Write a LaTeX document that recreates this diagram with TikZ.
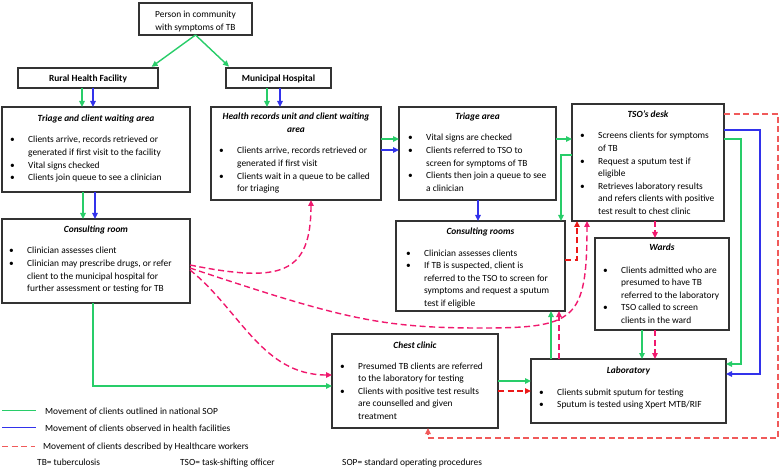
\documentclass[tikz,border=0pt]{standalone}
\usepackage{fontspec}
\setmainfont{Carlito}
\usetikzlibrary{arrows.meta}
\newcommand{\fs}{\fontsize{9.4}{12.6}\selectfont}
\newcommand{\bul}{\makebox[18pt][l]{\textbullet}}
\newcommand{\indt}{\hspace*{18pt}}
\newcommand{\blist}[1]{\begin{tabular}[t]{@{}l@{}}#1\end{tabular}}
\newcommand{\ctrtab}[1]{\begin{tabular}[t]{@{}c@{}}#1\end{tabular}}
\definecolor{gr}{RGB}{40,205,105}
\definecolor{bl}{RGB}{50,50,235}
\definecolor{sal}{RGB}{240,90,90}
\definecolor{rd}{RGB}{235,25,25}
\definecolor{mg}{RGB}{240,25,110}
\tikzset{
  box/.style={draw=black!80, line width=1.4pt, anchor=north west, inner sep=0pt, outer sep=0pt},
  ttl/.style={anchor=base, inner sep=0pt, font=\fs\bfseries\itshape},
  hdr/.style={anchor=base, inner sep=0pt, font=\fs\bfseries},
  bdy/.style={anchor=base west, inner sep=0pt, font=\fs},
  arr/.style={-{Triangle[length=6pt,width=5.5pt]}, line width=1.4pt},
  dsh/.style={dash pattern=on 6pt off 3.5pt},
  lgl/.style={line width=1.4pt},
}
\begin{document}
\begin{tikzpicture}[x=1pt,y=-1pt]
\useasboundingbox (0,0) rectangle (780,468);

% boxes
\node[box, minimum width=113pt, minimum height=32pt] (person) at (139,3) {};
\node[box, minimum width=140pt, minimum height=20pt] (rural) at (18,68) {};
\node[box, minimum width=105pt, minimum height=20pt] (muni) at (226,68) {};
\node[box, minimum width=188pt, minimum height=85pt] (tcw) at (2,107) {};
\node[box, minimum width=170pt, minimum height=93pt] (hru) at (211,107) {};
\node[box, minimum width=157pt, minimum height=93pt] (tri) at (399,107) {};
\node[box, minimum width=152pt, minimum height=117pt] (tso) at (572,104) {};
\node[box, minimum width=169pt, minimum height=90pt] (crs) at (396,221) {};
\node[box, minimum width=134pt, minimum height=92pt] (wards) at (595,238) {};
\node[box, minimum width=166pt, minimum height=94pt] (chest) at (332,334) {};
\node[box, minimum width=195pt, minimum height=64pt] (lab) at (531,359) {};
\node[box, minimum width=188pt, minimum height=84pt] (cr) at (2,219) {};

% texts
\node[bdy, anchor=base] (person-t) at (195.5,18) {\ctrtab{Person in community\\with symptoms of TB}};
\node[hdr] (rural-t) at (88,82) {Rural Health Facility};
\node[hdr] (muni-t) at (278.5,82) {Municipal Hospital};

\node[ttl] (tcw-t) at (96,122) {Triage and client waiting area};
\node[bdy] (tcw-b) at (10,143) {\blist{\bul Clients arrive, records retrieved or\\
\indt generated if first visit to the facility\\
\bul Vital signs checked\\
\bul Clients join queue to see a clinician}};

\node[ttl] (hru-t) at (296,120) {\ctrtab{Health records unit and client waiting\\area}};
\node[bdy] (hru-b) at (219,154) {\blist{\bul Clients arrive, records retrieved or\\
\indt generated if first visit\\
\bul Clients wait in a queue to be called\\
\indt for triaging}};

\node[ttl] (tri-t) at (477.5,120) {Triage area};
\node[bdy] (tri-b) at (408,141) {\blist{\bul Vital signs are checked\\
\bul Clients referred to TSO to\\
\indt screen for symptoms of TB\\
\bul Clients then join a queue to see\\
\indt a clinician}};

\node[ttl] (tso-t) at (648,118) {TSO’s desk};
\node[bdy] (tso-b) at (580,139) {\blist{\bul Screens clients for symptoms\\
\indt of TB\\
\bul Request a sputum test if\\
\indt eligible\\
\bul Retrieves laboratory results\\
\indt and refers clients with positive\\
\indt test result to chest clinic}};

\node[ttl] (crs-t) at (480.5,235) {Consulting rooms};
\node[bdy] (crs-b) at (406,256) {\blist{\bul Clinician assesses clients\\
\bul If TB is suspected, client is\\
\indt referred to the TSO to screen for\\
\indt symptoms and request a sputum\\
\indt test if eligible}};

\node[ttl] (wards-t) at (662,251) {Wards};
\node[bdy] (wards-b) at (603,273) {\blist{\bul Clients admitted who are\\
\indt presumed to have TB\\
\indt referred to the laboratory\\
\bul TSO called to screen\\
\indt clients in the ward}};

\node[ttl] (chest-t) at (415,348) {Chest clinic};
\node[bdy] (chest-b) at (340,369) {\blist{\bul Presumed TB clients are referred\\
\indt to the laboratory for testing\\
\bul Clients with positive test results\\
\indt are counselled and given\\
\indt treatment}};

\node[ttl] (lab-t) at (628.5,373) {Laboratory};
\node[bdy] (lab-b) at (539,395) {\blist{\bul Clients submit sputum for testing\\
\bul Sputum is tested using Xpert MTB/RIF}};

\node[ttl] (cr-t) at (96,233) {Consulting room};
\node[bdy] (cr-b) at (9,254) {\blist{\bul Clinician assesses client\\
\bul Clinician may prescribe drugs, or refer\\
\indt client to the municipal hospital for\\
\indt further assessment or testing for TB}};

% connectors
\draw[arr,gr,shorten >=2pt] (person.south) -- ([xshift=62]rural.north);
\draw[arr,gr,shorten >=2pt] (person.south) -- ([xshift=-48]muni.north);

\draw[arr,gr] ([xshift=-6]rural.south) -- ([xshift=-14]tcw.north);
\draw[arr,bl] ([xshift=5]rural.south) -- ([xshift=-3]tcw.north);
\draw[arr,gr] ([xshift=-11.5]muni.south) -- ([xshift=-29]hru.north);
\draw[arr,bl] ([xshift=1.5]muni.south) -- ([xshift=-16]hru.north);

\draw[arr,gr] ([yshift=14.5]hru.east) -- ([yshift=14.5]tri.west);
\draw[arr,bl] ([yshift=3.5]hru.east) -- ([yshift=3.5]tri.west);

\draw[arr,gr] ([xshift=-13]tcw.south) -- ([xshift=-13]cr.north);
\draw[arr,bl] ([xshift=-1]tcw.south) -- ([xshift=-1]cr.north);

\draw[arr,gr] ([yshift=14.5]tri.east) -- ([yshift=23.5]tso.west);
\draw[arr,gr] ([yshift=7.5]tso.west) -| ([xshift=80.5]crs.north);
\draw[arr,bl] ([xshift=0.5]tri.south) -- ([xshift=-2.5]crs.north);

\draw[arr,gr] ([yshift=23.5]tso.east) -- ++(17,0) |- ([yshift=27]lab.east);
\draw[arr,bl] ([yshift=32.5]tso.east) -- ++(36,0) |- ([yshift=17]lab.east);
\draw[arr,sal,dsh] ([yshift=48.5]tso.east) -- ++(54,0) -- ++(0,324) -| ([xshift=13]chest.south);

\draw[arr,mg,dsh] ([xshift=7]tso.south) -- ([xshift=-7]wards.north);
\draw[arr,gr] ([xshift=-20]wards.south) -- ([xshift=13.5]lab.north);
\draw[arr,mg,dsh] ([xshift=-7]wards.south) -- ([xshift=26.5]lab.north);

\draw[arr,gr] (chest.east) -- ([yshift=10]lab.west);
\draw[arr,rd,dsh] ([yshift=-10]chest.east) -- (lab.west);

\draw[arr,gr] ([xshift=-77.5]lab.north) -- ([xshift=70.5]crs.south);
\draw[arr,mg,dsh] ([xshift=-69.5]lab.north) -- ([xshift=78.5]crs.south);

\draw[arr,rd,dsh] ([yshift=6]crs.east) -| ([xshift=-71]tso.south);

\draw[arr,mg,dsh] ([yshift=-4]cr.east) .. controls +(90,18) and +(0,75) .. ([xshift=15]hru.south);
\draw[arr,mg,dsh] ([yshift=-7]cr.east) .. controls +(150,50) and +(-100,0) .. (480,328) .. controls +(95,0) and +(0,100) .. ([xshift=-61]tso.south);
\draw[arr,mg,dsh] ([yshift=-9]cr.east) .. controls +(50,40) and +(-70,0) .. ([yshift=6]chest.west);
\draw[arr,gr] ([xshift=-3]cr.south) |- ([yshift=-5]chest.west);

% legend
\node[bdy] (lg1) at (45,414) {Movement of clients outlined in national SOP};
\node[bdy] (lg2) at (45,431) {Movement of clients observed in health facilities};
\node[bdy] (lg3) at (43,449) {Movement of clients described by Healthcare workers};
\draw[lgl,gr] ([xshift=-43]lg1.west) -- ([xshift=-9]lg1.west);
\draw[lgl,bl] ([xshift=-43]lg2.west) -- ([xshift=-9]lg2.west);
\draw[lgl,sal,dsh] ([xshift=-41]lg3.west) -- ([xshift=-8]lg3.west);
\node[bdy] (ft1) at (37,465) {TB= tuberculosis};
\node[bdy] (ft2) at (180,465) {TSO= task-shifting officer};
\node[bdy] (ft3) at (342,465) {SOP= standard operating procedures};
\end{tikzpicture}
\end{document}
